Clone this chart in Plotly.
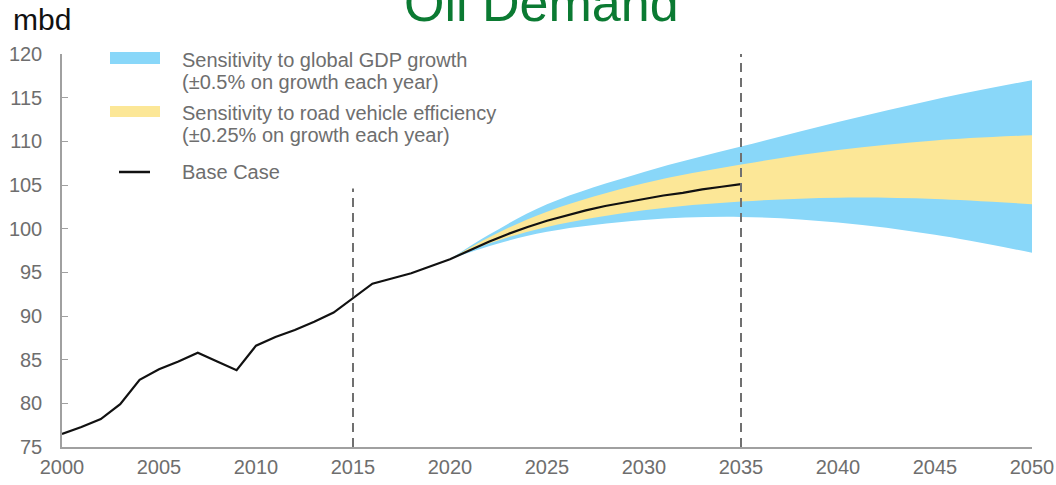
import plotly.graph_objects as go

# ---------------- data ----------------
years_base = list(range(2000, 2036))
base_case = [76.5, 77.3, 78.2, 79.9, 82.7, 83.9, 84.8, 85.8, 84.8, 83.8,
             86.6, 87.6, 88.4, 89.35, 90.4, 92.1, 93.7, 94.3, 94.9, 95.7,
             96.5, 97.5, 98.5, 99.4, 100.2, 100.9, 101.5, 102.1, 102.6, 103.0,
             103.4, 103.8, 104.1, 104.5, 104.8, 105.1]

years_band = [2020, 2022, 2025, 2030, 2035, 2040, 2045, 2050]
gdp_high = [96.5, 99.3, 102.8, 106.5, 109.4, 112.2, 114.8, 117.0]
gdp_low = [96.5, 98.0, 99.65, 101.0, 101.35, 100.7, 99.3, 97.25]
eff_high = [96.5, 99.0, 101.95, 105.2, 107.35, 109.0, 110.1, 110.7]
eff_low = [96.5, 98.3, 100.2, 102.1, 103.1, 103.55, 103.4, 102.8]

x_ticks = [2000, 2005, 2010, 2015, 2020, 2025, 2030, 2035, 2040, 2045, 2050]
y_ticks = [75, 80, 85, 90, 95, 100, 105, 110, 115, 120]

legend_gdp = ["Sensitivity to global GDP growth", "(±0.5% on growth each year)"]
legend_eff = ["Sensitivity to road vehicle efficiency", "(±0.25% on growth each year)"]
legend_base = "Base Case"

title_text = "Oil Demand"
unit_text = "mbd"

# ---------------- styling ----------------
W, H = 1056, 485
ML, MR, MT, MB = 62, 24, 54, 38
PW, PH = W - ML - MR, H - MT - MB

BLUE = "#89D7F9"
YELLOW = "#FCE797"
GREY_TXT = "#6e6e6e"
AXIS = "#a0a0a0"
FONT = "Liberation Sans, Arial, sans-serif"


def px_x(px):
    return (px - ML) / PW


def px_y(py):
    return (H - MB - py) / PH


fig = go.Figure()

# GDP band
fig.add_trace(go.Scatter(x=years_band, y=gdp_low, mode="lines",
                         line=dict(width=0, shape="spline", color=BLUE),
                         hoverinfo="skip", showlegend=False))
fig.add_trace(go.Scatter(x=years_band, y=gdp_high, mode="lines", fill="tonexty",
                         fillcolor=BLUE, line=dict(width=0, shape="spline", color=BLUE),
                         name=" ".join(legend_gdp), showlegend=False))
# efficiency band
fig.add_trace(go.Scatter(x=years_band, y=eff_low, mode="lines",
                         line=dict(width=0, shape="spline", color=YELLOW),
                         hoverinfo="skip", showlegend=False))
fig.add_trace(go.Scatter(x=years_band, y=eff_high, mode="lines", fill="tonexty",
                         fillcolor=YELLOW, line=dict(width=0, shape="spline", color=YELLOW),
                         name=" ".join(legend_eff), showlegend=False))
# base case
fig.add_trace(go.Scatter(x=years_base, y=base_case, mode="lines",
                         line=dict(width=2.2, color="#111111"),
                         name=legend_base, showlegend=False))

shapes = []
# dashed vertical reference lines
shapes.append(dict(type="line", xref="x", yref="y", x0=2015, x1=2015, y0=75, y1=104.6,
                   line=dict(color="#707070", width=2, dash="9px,6px")))
shapes.append(dict(type="line", xref="x", yref="y", x0=2035, x1=2035, y0=75, y1=120.2,
                   line=dict(color="#707070", width=2, dash="9px,6px")))

# legend swatches
shapes.append(dict(type="rect", xref="paper", yref="paper",
                   x0=px_x(110), x1=px_x(160), y0=px_y(64), y1=px_y(52),
                   fillcolor=BLUE, line=dict(width=0), layer="above"))
shapes.append(dict(type="rect", xref="paper", yref="paper",
                   x0=px_x(110), x1=px_x(160), y0=px_y(117), y1=px_y(106),
                   fillcolor=YELLOW, line=dict(width=0), layer="above"))
shapes.append(dict(type="line", xref="paper", yref="paper",
                   x0=px_x(119), x1=px_x(150), y0=px_y(172), y1=px_y(172),
                   line=dict(color="#111111", width=2.5), layer="above"))

annotations = []
leg_lines = [(legend_gdp[0], 60), (legend_gdp[1], 82),
             (legend_eff[0], 113), (legend_eff[1], 135),
             (legend_base, 172)]
for txt, py in leg_lines:
    annotations.append(dict(text=txt, xref="paper", yref="paper",
                            x=px_x(180), y=px_y(py), xanchor="left", yanchor="middle",
                            showarrow=False,
                            font=dict(family=FONT, size=20, color=GREY_TXT)))

annotations.append(dict(text=title_text, xref="paper", yref="paper",
                        x=px_x(541), y=px_y(34), xanchor="center", yanchor="bottom",
                        showarrow=False,
                        font=dict(family=FONT, size=52, color="#0B7A32")))
annotations.append(dict(text=unit_text, xref="paper", yref="paper",
                        x=px_x(11), y=px_y(38), xanchor="left", yanchor="bottom",
                        showarrow=False,
                        font=dict(family=FONT, size=30, color="#111111")))

fig.update_layout(
    width=W, height=H,
    margin=dict(l=ML, r=MR, t=MT, b=MB, pad=0, autoexpand=False),
    paper_bgcolor="white", plot_bgcolor="white",
    shapes=shapes, annotations=annotations,
    showlegend=False,
    font=dict(family=FONT),
)
fig.update_xaxes(range=[2000, 2050], tickvals=x_ticks, ticks="", showgrid=False,
                 zeroline=False, showline=True, linecolor=AXIS, linewidth=1.5,
                 automargin=False,
                 tickfont=dict(size=20, color=GREY_TXT), ticklabelstandoff=1)
fig.update_yaxes(range=[75, 120], tickvals=y_ticks, ticks="inside", ticklen=6,
                 tickcolor=AXIS, tickwidth=1.2, showgrid=False, zeroline=False,
                 showline=True, linecolor=AXIS, linewidth=1.5, automargin=False,
                 tickfont=dict(size=20, color=GREY_TXT), ticklabelstandoff=14)

fig.write_html("out.html",
               config={"displayModeBar": False},
               post_script="document.body.style.margin='0';document.body.style.overflow='hidden';")
